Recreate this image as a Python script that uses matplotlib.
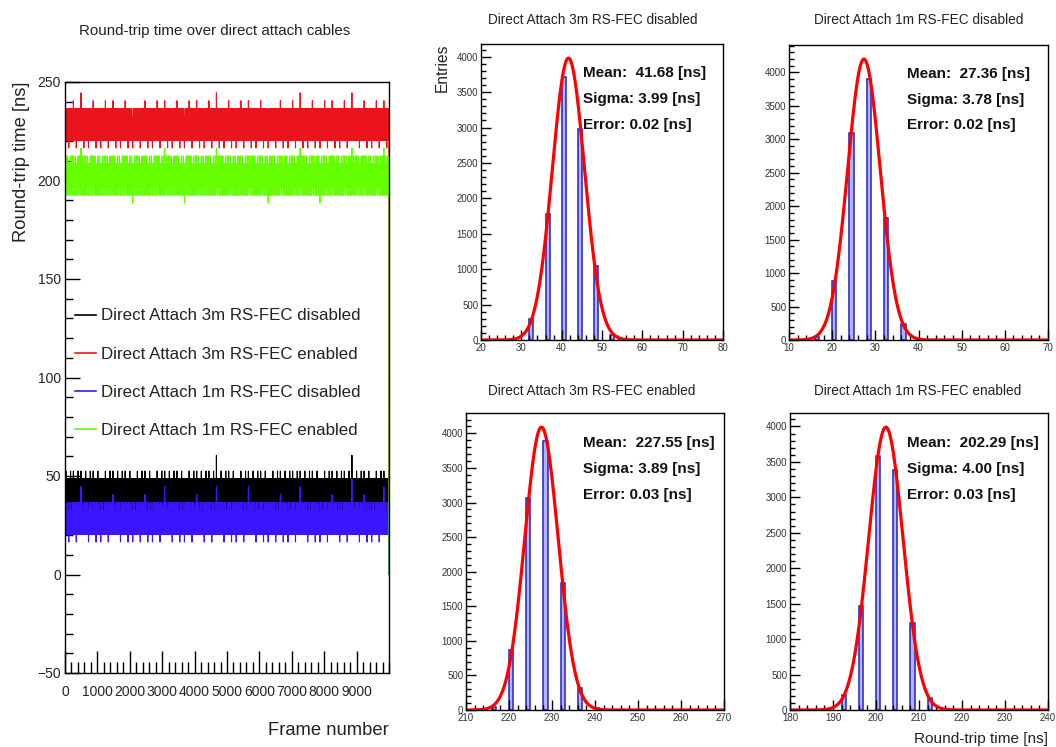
import numpy as np
import matplotlib
matplotlib.use("Agg")
import matplotlib.pyplot as plt
from matplotlib.ticker import MultipleLocator

plt.rcParams["font.family"] = ["Liberation Sans", "DejaVu Sans"]

W, H = 1056, 747

# ---- data -----------------------------------------------------------------
series_labels = [
    "Direct Attach 3m RS-FEC disabled",
    "Direct Attach 3m RS-FEC enabled",
    "Direct Attach 1m RS-FEC disabled",
    "Direct Attach 1m RS-FEC enabled",
]
series_colors = ["#000000", "#ec141c", "#3c14ff", "#66ff00"]

# round-trip levels (lower edge of the 1 ns bin) and number of frames at each
levels_3m_off = [32, 36, 40, 44, 48, 52, 60]
counts_3m_off = [298, 1785, 3711, 2980, 1041, 70, 2]
levels_3m_on = [216, 220, 224, 228, 232, 236, 240, 244]
counts_3m_on = [50, 861, 3071, 3889, 1838, 314, 25, 3]
levels_1m_off = [16, 20, 24, 28, 32, 36, 40, 44, 48]
counts_1m_off = [40, 883, 3092, 3905, 1825, 239, 6, 5, 1]
levels_1m_on = [188, 192, 196, 200, 204, 208, 212, 216]
counts_1m_on = [5, 216, 1464, 3586, 3388, 1233, 165, 5]

# gaussian fit results
fit_mean = [41.68, 227.55, 27.36, 202.29]
fit_sigma = [3.99, 3.89, 3.78, 4.00]
fit_error = [0.02, 0.03, 0.02, 0.03]
fit_peak = [3980, 4090, 4200, 3990]

hist_xrange = [(20, 80), (210, 270), (10, 70), (180, 240)]

n_frames = 10000
frame_max = 10000

all_levels = [levels_3m_off, levels_3m_on, levels_1m_off, levels_1m_on]
all_counts = [counts_3m_off, counts_3m_on, counts_1m_off, counts_1m_on]


def frame_series(levels, counts, n):
    """Spread the measured levels evenly over the run of n frames."""
    lv = np.asarray(levels, float) + 0.5
    cdf = np.cumsum(counts) / np.sum(counts)
    golden = (np.sqrt(5) - 1) / 2
    u = np.mod((np.arange(n - 1) + 0.5) * golden, 1.0)
    idx = np.searchsorted(cdf, u, side="right")
    vals = lv[np.clip(idx, 0, len(lv) - 1)]
    # the recording ends with an empty slot
    return np.append(vals, 0.0)


fig = plt.figure(figsize=(W / 100, H / 100), dpi=100)


def add_ax(left, top, right, bottom):
    return fig.add_axes([left / W, 1 - bottom / H, (right - left) / W, (bottom - top) / H])


# ---- time series ------------------------------------------------------------
ax = add_ax(65, 82, 389, 673)
frames = np.arange(n_frames)
for lab, col, lv, ct in zip(series_labels, series_colors, all_levels, all_counts):
    ax.plot(frames, frame_series(lv, ct, n_frames), color=col, lw=0.8, label=lab)

ax.set_xlim(0, frame_max)
ax.set_ylim(-50, 250)
ax.xaxis.set_major_locator(MultipleLocator(1000))
ax.xaxis.set_minor_locator(MultipleLocator(200))
ax.yaxis.set_major_locator(MultipleLocator(50))
ax.yaxis.set_minor_locator(MultipleLocator(10))
ax.set_xticks(np.arange(0, 10000, 1000))
ax.tick_params(which="both", direction="in", top=False, right=False,
               labelsize=10, colors="black", labelcolor="#222222")
ax.tick_params(axis="x", which="major", length=16, width=1, pad=9)
ax.tick_params(axis="x", which="minor", length=8, width=1)
ax.tick_params(axis="y", which="major", length=11, width=1, pad=3)
ax.tick_params(axis="y", which="minor", length=5.5, width=1)
for s in ax.spines.values():
    s.set_linewidth(1.0)
ax.set_xlabel("Frame number", loc="right", fontsize=13.2, labelpad=16, color="#222222")
ax.set_ylabel("Round-trip time [ns]", loc="top", fontsize=13.2, labelpad=5, color="#222222")
fig.text(215 / W, 1 - 31 / H, "Round-trip time over direct attach cables",
         ha="center", va="center", fontsize=10.9, color="#222222")

leg = ax.legend(loc="upper left", bbox_to_anchor=(67 / W, 1 - 300 / H),
                bbox_transform=fig.transFigure, frameon=False, borderpad=0,
                handlelength=1.2, handletextpad=0.3, labelspacing=1.37,
                fontsize=12.2)
for t in leg.get_texts():
    t.set_color("#222222")
for h in leg.get_lines():
    h.set_linewidth(1.2)

# ---- histograms -----------------------------------------------------------
panel_boxes = [
    (481, 44, 723, 340),   # 3m disabled
    (466, 413, 724, 710),  # 3m enabled
    (789, 45, 1048, 340),  # 1m disabled
    (790, 413, 1048, 710), # 1m enabled
]
title_pos = [(593, 20), (592, 391), (919, 20), (918, 391)]
stats_x = [583, 583, 907, 907]
stats_y = [(73, 99, 125), (443, 469, 495), (74, 100, 125), (443, 469, 495)]

for i in range(4):
    hx = add_ax(*panel_boxes[i])
    lv = np.asarray(all_levels[i], float)
    hx.bar(lv, all_counts[i], width=1.0, align="edge",
           facecolor=(0.3, 0.3, 0.88, 0.42), edgecolor="#2222c8", linewidth=1.1)
    x0, x1 = hist_xrange[i]
    xs = np.linspace(x0, x1, 600)
    g = fit_peak[i] * np.exp(-0.5 * ((xs - fit_mean[i]) / fit_sigma[i]) ** 2)
    hx.plot(xs, g, color="#ff0000", lw=2.3, solid_capstyle="round")
    hx.set_xlim(x0, x1)
    hx.set_ylim(0, fit_peak[i] * 1.05)
    hx.xaxis.set_major_locator(MultipleLocator(10))
    hx.xaxis.set_minor_locator(MultipleLocator(2))
    hx.yaxis.set_major_locator(MultipleLocator(500))
    hx.yaxis.set_minor_locator(MultipleLocator(100))
    hx.tick_params(which="both", direction="in", top=False, right=False,
                   labelsize=7.0, labelcolor="#333333")
    hx.tick_params(which="major", length=7, width=1, pad=2)
    hx.tick_params(which="minor", length=3.5, width=1)
    for s in hx.spines.values():
        s.set_linewidth(1.0)
    cx, cy = title_pos[i]
    fig.text(cx / W, 1 - cy / H, series_labels[i], ha="center", va="center",
             fontsize=9.8, color="#222222")
    lines = [
        f"Mean:  {fit_mean[i]:.2f} [ns]",
        f"Sigma: {fit_sigma[i]:.2f} [ns]",
        f"Error: {fit_error[i]:.2f} [ns]",
    ]
    for txt, yy in zip(lines, stats_y[i]):
        fig.text(stats_x[i] / W, 1 - yy / H, txt, fontsize=11, fontweight="bold",
                 va="center", ha="left", color="#111111")
    if i == 0:
        hx.set_ylabel("Entries", loc="top", fontsize=11.2, labelpad=5, color="#222222")
    if i == 3:
        hx.set_xlabel("Round-trip time [ns]", loc="right", fontsize=11.1,
                      labelpad=7, color="#222222")

fig.savefig("out.png", dpi=100)
